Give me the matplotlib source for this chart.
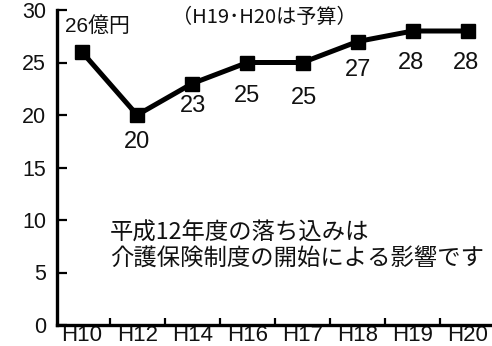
import matplotlib
matplotlib.use("Agg")
import matplotlib.pyplot as plt

plt.rcParams["font.family"] = ["Liberation Sans", "Noto Sans CJK JP", "DejaVu Sans"]

years = ["H10", "H12", "H14", "H16", "H17", "H18", "H19", "H20"]
amounts = [26, 20, 23, 25, 25, 27, 28, 28]
first_unit = "億円"
budget_note = "（H19･H20は予算）"
comment = "平成12年度の落ち込みは\n介護保険制度の開始による影響です"

# label offsets from each marker, in pixels
label_dx = [-17, 0, 1, 0, 1, 0, -2, -2]
label_dy = [26, -27, -23, -34, -36, -29, -32, -32]

INK = "#111111"
NARROW = ["Liberation Sans Narrow", "Liberation Sans", "Noto Sans CJK JP"]
CJK = ["Noto Sans CJK JP", "DejaVu Sans"]

fig = plt.figure(figsize=(4.92, 3.46), dpi=100)
ax = fig.add_axes([57.3 / 492, 21 / 346, (492 - 57.3) / 492, 315 / 346])

x = list(range(len(years)))
ax.plot(x, amounts, color="black", linewidth=3.6, marker="s", markersize=10.5,
        solid_joinstyle="miter")

for i, v in enumerate(amounts):
    text = f"{v}{first_unit}" if i == 0 else f"{v}"
    ax.annotate(text, (i, v), xytext=(label_dx[i], label_dy[i]),
                textcoords="offset pixels", ha="left" if i == 0 else "center",
                va="center", fontsize=15 if i == 0 else 17, color=INK,
                family=NARROW)

ax.set_xlim(-(82 - 57.3) / 55.14, (492 - 82) / 55.14)
ax.set_ylim(0, 30)

ax.set_yticks(range(0, 31, 5))
ax.tick_params(axis="y", direction="in", length=7, width=1.6, pad=8,
               labelsize=15.5, labelcolor=INK)
ax.set_xticks(x)
ax.set_xticklabels(years)
ax.set_xticks([i + 0.5 for i in x[:-1]], minor=True)
ax.tick_params(axis="x", which="major", length=0, pad=0, labelsize=16,
               labelcolor=INK)
ax.tick_params(axis="x", which="minor", direction="in", length=5, width=1.6)

for side in ("top", "right"):
    ax.spines[side].set_visible(False)
for side in ("left", "bottom"):
    ax.spines[side].set_linewidth(2.4)
ax.patch.set_visible(False)

ax.text(3.3, 29.3, budget_note, ha="center", va="center", fontsize=14.5,
        color=INK, family=CJK)
ax.text(0.51, 7.5, comment, ha="left", va="center", fontsize=16.8,
        color=INK, family=CJK, linespacing=1.18)

fig.savefig("out.png", dpi=100)
